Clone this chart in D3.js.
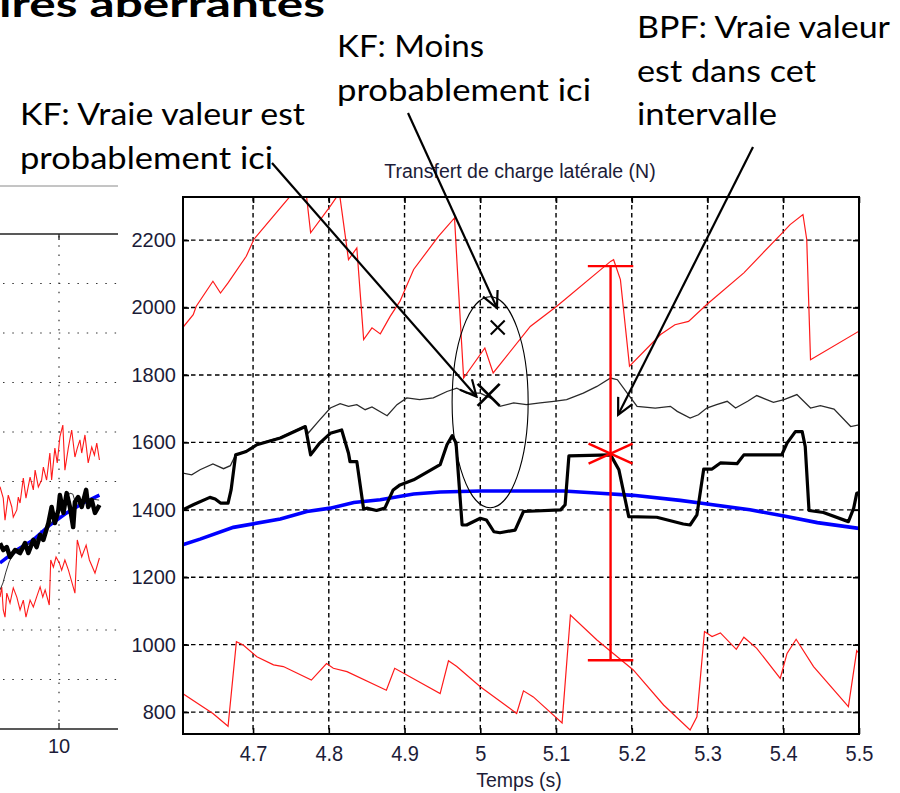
<!DOCTYPE html>
<html><head><meta charset="utf-8">
<script src="https://cdn.jsdelivr.net/npm/d3@7"></script>
<style>
html,body{margin:0;padding:0;background:#fff;}
svg{display:block;}
</style></head>
<body>
<svg id="c" width="900" height="793"></svg>
<script>
// ---------- DATA : right chart (Temps (s), Transfert de charge latérale (N)) ----------
const xTicks = [4.7, 4.8, 4.9, 5, 5.1, 5.2, 5.3, 5.4, 5.5];
const xTickLabels = ["4.7","4.8","4.9","5","5.1","5.2","5.3","5.4","5.5"];
const yTicks = [800, 1000, 1200, 1400, 1600, 1800, 2000, 2200];
const yTickLabels = ["800","1000","1200","1400","1600","1800","2000","2200"];

const redUpper = [[4.607,1940],[4.621,1979],[4.625,2004],[4.647,2078],[4.657,2043],[4.667,2073],[4.691,2152],[4.701,2202],[4.768,2381],[4.776,2222],[4.802,2301],[4.814,2340],[4.826,2142],[4.837,2177],[4.846,1905],[4.857,1940],[4.868,1922],[4.881,1974],[4.894,2019],[4.912,2113],[4.945,2212],[4.966,2266],[4.971,2063],[4.978,1791],[5.006,1880],[5.017,1806],[5.066,1944],[5.101,2004],[5.172,2137],[5.176,2142],[5.185,2083],[5.197,1826],[5.238,1920],[5.257,1949],[5.275,1959],[5.299,2009],[5.348,2103],[5.401,2227],[5.409,2246],[5.426,2276],[5.431,2202],[5.436,1845],[5.5,1930]];

const redLower = [[4.607,855],[4.630,821],[4.647,796],[4.667,758],[4.678,1009],[4.687,999],[4.705,964],[4.727,940],[4.740,935],[4.777,895],[4.797,944],[4.806,930],[4.824,920],[4.876,865],[4.887,930],[4.947,855],[4.958,952],[4.969,935],[5.000,875],[5.048,796],[5.057,863],[5.070,845],[5.108,768],[5.119,1088],[5.154,1014],[5.202,925],[5.242,821],[5.277,747],[5.286,786],[5.296,1039],[5.306,1024],[5.317,1035],[5.338,986],[5.348,1022],[5.365,989],[5.396,900],[5.405,974],[5.417,1016],[5.440,935],[5.486,816],[5.497,982],[5.5,974]];

const blueTrue = [[4.607,1296],[4.630,1313],[4.674,1348],[4.736,1373],[4.771,1395],[4.802,1405],[4.833,1422],[4.868,1430],[4.912,1447],[4.947,1453],[5.0,1456],[5.110,1456],[5.158,1449],[5.202,1443],[5.264,1428],[5.290,1420],[5.356,1400],[5.401,1382],[5.445,1362],[5.5,1345]];

const blackThick = [[4.607,1400],[4.621,1415],[4.643,1437],[4.650,1432],[4.657,1420],[4.667,1420],[4.671,1459],[4.677,1563],[4.691,1573],[4.705,1593],[4.736,1613],[4.764,1642],[4.769,1647],[4.776,1563],[4.788,1598],[4.802,1627],[4.817,1637],[4.826,1568],[4.828,1543],[4.837,1543],[4.846,1402],[4.850,1405],[4.863,1398],[4.874,1405],[4.885,1459],[4.894,1474],[4.912,1489],[4.947,1534],[4.956,1593],[4.963,1620],[4.968,1598],[4.976,1355],[4.982,1355],[5.000,1375],[5.008,1370],[5.018,1335],[5.026,1332],[5.046,1340],[5.057,1395],[5.106,1400],[5.112,1415],[5.117,1560],[5.172,1563],[5.183,1519],[5.196,1380],[5.233,1378],[5.268,1358],[5.277,1355],[5.286,1385],[5.295,1521],[5.306,1521],[5.317,1539],[5.339,1537],[5.348,1563],[5.398,1563],[5.405,1598],[5.416,1632],[5.425,1632],[5.429,1588],[5.434,1398],[5.453,1392],[5.486,1365],[5.493,1405],[5.497,1449],[5.5,1451]];

const blackThin = [[4.607,1509],[4.619,1504],[4.630,1519],[4.647,1536],[4.661,1522],[4.670,1531],[4.677,1563],[4.691,1575],[4.705,1595],[4.736,1615],[4.764,1644],[4.769,1647],[4.773,1628],[4.788,1667],[4.802,1702],[4.815,1715],[4.826,1707],[4.837,1712],[4.848,1697],[4.857,1705],[4.877,1679],[4.890,1712],[4.903,1732],[4.920,1727],[4.938,1732],[4.956,1751],[4.969,1761],[4.982,1746],[5.0,1746],[5.018,1727],[5.026,1707],[5.044,1717],[5.061,1712],[5.079,1717],[5.097,1722],[5.114,1727],[5.136,1746],[5.154,1766],[5.172,1791],[5.181,1786],[5.194,1746],[5.207,1707],[5.231,1702],[5.251,1707],[5.260,1692],[5.277,1672],[5.288,1682],[5.299,1702],[5.312,1712],[5.326,1722],[5.337,1702],[5.353,1722],[5.365,1739],[5.387,1719],[5.401,1727],[5.418,1742],[5.436,1702],[5.449,1709],[5.467,1699],[5.489,1647],[5.5,1652]];

// BPF interval (error bar) and KF markers
const bpfInterval = {t: 5.172, low: 954, high: 2123, est: 1567, cap: 0.03};
const kfLikely = [5.011, 1741];
const kfUnlikely = [5.023, 1941];
const kfEllipse = {t: 5.013, v: 1719, dt: 0.0502, dv: 313};

// ---------- DATA : left (cropped) chart ----------
const leftXTicks = [10];
const leftYGrid = [200, 400, 600, 800, 1000, 1200, 1400, 1600, 1800];
const leftRedUpper = [[8.00,979],[8.11,933],[8.17,844],[8.28,945],[8.40,897],[8.45,856],[8.57,885],[8.62,937],[8.68,913],[8.79,1014],[8.88,933],[9.02,1018],[9.13,966],[9.19,1046],[9.30,978],[9.41,1006],[9.47,1058],[9.58,1006],[9.69,1115],[9.75,1006],[9.86,1135],[9.94,1075],[10.03,1180],[10.13,1228],[10.20,1046],[10.32,1139],[10.43,1208],[10.54,1099],[10.62,1135],[10.71,1168],[10.77,1115],[10.88,1188],[10.99,1075],[11.11,1139],[11.20,1107],[11.28,1155],[11.37,1087]];
const leftBlack = [[8.00,751],[8.11,723],[8.23,735],[8.34,695],[8.51,723],[8.68,711],[8.85,751],[8.96,711],[9.13,764],[9.24,735],[9.36,784],[9.47,764],[9.64,832],[9.75,897],[9.86,832],[9.98,885],[10.03,945],[10.15,873],[10.26,953],[10.37,897],[10.48,816],[10.54,917],[10.65,937],[10.77,897],[10.92,966],[10.99,897],[11.11,925],[11.22,873],[11.37,905]];
const leftBlue = [[8.00,671],[8.57,723],[9.13,764],[9.69,824],[10.26,873],[10.82,913],[11.37,945]];
const leftThin = [[8.00,562],[8.10,590],[8.20,634],[8.31,675],[8.47,711],[8.68,731],[9.02,751],[9.36,776],[9.69,824],[10.03,885],[10.20,925],[10.37,953],[10.47,949],[10.58,905],[10.88,933],[11.36,925]];
const leftRedLower = [[8.00,533],[8.06,574],[8.11,481],[8.17,452],[8.23,549],[8.34,509],[8.45,570],[8.57,533],[8.68,481],[8.79,521],[8.88,452],[9.02,521],[9.13,493],[9.24,533],[9.36,574],[9.45,533],[9.53,562],[9.67,501],[9.72,683],[9.81,654],[9.90,695],[10.01,671],[10.09,642],[10.20,683],[10.32,642],[10.54,549],[10.62,764],[10.77,695],[10.92,743],[11.03,683],[11.22,630],[11.37,691]];

// ---------- TEXT ----------
const slideTitle = "ires aberrantes";
const chartTitle = "Transfert de charge latérale (N)";
const xLabel = "Temps (s)";
const noteLikely = ["KF: Vraie valeur est", "probablement ici"];
const noteUnlikely = ["KF: Moins", "probablement ici"];
const noteBPF = ["BPF: Vraie valeur", "est dans cet", "intervalle"];

// ---------- DRAW ----------
const svg = d3.select("#c");
const defs = svg.append("defs");
const tickFont = "'Liberation Sans', Arial, sans-serif";
const tickColor = "#1c1c38";

// slide title (cropped at the top, as in the slide)
svg.append("text").attr("x", -1).attr("y", 17)
  .attr("font-family", "Lato, 'Open Sans', sans-serif").attr("font-weight", 700)
  .attr("font-size", 37).attr("textLength", 326).attr("lengthAdjust", "spacingAndGlyphs")
  .attr("fill", "#000").text(slideTitle);

// ===== left chart =====
const xL = d3.scaleLinear().domain([8, 12]).range([0, 118]);
const yL = d3.scaleLinear().domain([0, 2000]).range([729, 234]);
defs.append("clipPath").attr("id", "clipL").append("rect")
  .attr("x", 0).attr("y", 234).attr("width", 118).attr("height", 495);

svg.append("line").attr("x1", 0).attr("x2", 118).attr("y1", 186).attr("y2", 186)
  .attr("stroke", "#8a8a8a").attr("stroke-width", 1);

const gL = svg.append("g");
gL.selectAll(".hgL").data(leftYGrid).join("line")
  .attr("x1", 3).attr("x2", 118).attr("y1", d => yL(d)).attr("y2", d => yL(d))
  .attr("stroke", "#333").attr("stroke-width", 1.2).attr("stroke-dasharray", "1.5,7.8");
gL.selectAll(".vgL").data(leftXTicks).join("line")
  .attr("x1", d => xL(d)).attr("x2", d => xL(d)).attr("y1", 236).attr("y2", 729)
  .attr("stroke", "#333").attr("stroke-width", 1.2).attr("stroke-dasharray", "1.5,7.8");
gL.append("line").attr("x1", 0).attr("x2", 118).attr("y1", 234).attr("y2", 234).attr("stroke", "#222").attr("stroke-width", 1.3);
gL.append("line").attr("x1", 0).attr("x2", 118).attr("y1", 729).attr("y2", 729).attr("stroke", "#222").attr("stroke-width", 1.3);
gL.selectAll(".tkL").data(leftXTicks).join("line")
  .attr("x1", d => xL(d)).attr("x2", d => xL(d)).attr("y1", 729).attr("y2", 723).attr("stroke", "#222").attr("stroke-width", 1.3);
gL.selectAll(".tkL2").data(leftXTicks).join("line")
  .attr("x1", d => xL(d)).attr("x2", d => xL(d)).attr("y1", 234).attr("y2", 240).attr("stroke", "#222").attr("stroke-width", 1.3);
gL.selectAll(".tlL").data(leftXTicks).join("text")
  .attr("x", d => xL(d)).attr("y", 753).attr("text-anchor", "middle")
  .attr("font-family", tickFont).attr("font-size", 20).attr("fill", tickColor).text(d => d);

const lineL = d3.line().x(d => xL(d[0])).y(d => yL(d[1]));
const pL = gL.append("g").attr("clip-path", "url(#clipL)");
pL.append("path").datum(leftRedUpper).attr("d", lineL).attr("fill", "none").attr("stroke", "#ff1a1a").attr("stroke-width", 1.1);
pL.append("path").datum(leftRedLower).attr("d", lineL).attr("fill", "none").attr("stroke", "#ff1a1a").attr("stroke-width", 1.1);
pL.append("path").datum(leftBlue).attr("d", lineL).attr("fill", "none").attr("stroke", "#0000ff").attr("stroke-width", 3.5);
pL.append("path").datum(leftThin).attr("d", lineL).attr("fill", "none").attr("stroke", "#333").attr("stroke-width", 1);
pL.append("path").datum(leftBlack).attr("d", lineL).attr("fill", "none").attr("stroke", "#000").attr("stroke-width", 4.5).attr("stroke-linejoin", "round");

// ===== right chart =====
const x = d3.scaleLinear().domain([4.6075, 5.5]).range([183, 859]);
const y = d3.scaleLinear().domain([735, 2328]).range([734, 197]);
defs.append("clipPath").attr("id", "clipR").append("rect")
  .attr("x", 183).attr("y", 197).attr("width", 676).attr("height", 537);

svg.append("rect").attr("x", 183).attr("y", 197).attr("width", 676).attr("height", 537).attr("fill", "#fff");

// grid
const gGrid = svg.append("g");
gGrid.selectAll(".vg").data(xTicks.filter(d => d < 5.5)).join("line")
  .attr("x1", d => x(d)).attr("x2", d => x(d)).attr("y1", 197).attr("y2", 734)
  .attr("stroke", "#000").attr("stroke-width", 1.4).attr("stroke-dasharray", "4.5,3.5");
gGrid.selectAll(".hg").data(yTicks).join("line")
  .attr("x1", 183).attr("x2", 859).attr("y1", d => y(d)).attr("y2", d => y(d))
  .attr("stroke", "#000").attr("stroke-width", 1.4).attr("stroke-dasharray", "4.5,3.5");

// axes
const axB = d3.axisBottom(x).tickValues(xTicks).tickFormat((d, i) => xTickLabels[i]).tickSizeInner(-6).tickSizeOuter(0).tickPadding(11);
const axL = d3.axisLeft(y).tickValues(yTicks).tickFormat((d, i) => yTickLabels[i]).tickSizeInner(-6).tickSizeOuter(0).tickPadding(7);
const axT = d3.axisTop(x).tickValues(xTicks).tickFormat("").tickSizeInner(-6).tickSizeOuter(0);
const axR = d3.axisRight(y).tickValues(yTicks).tickFormat("").tickSizeInner(-6).tickSizeOuter(0);
function styleAxis(g) {
  g.select(".domain").remove();
  g.selectAll(".tick line").attr("stroke", "#000").attr("stroke-width", 1.6);
  g.selectAll(".tick text").attr("font-family", tickFont).attr("font-size", 20)
    .attr("fill", tickColor).attr("transform", "scale(1,1.08)");
}
svg.append("g").attr("transform", "translate(0,734)").call(axB).call(styleAxis);
svg.append("g").attr("transform", "translate(183,0)").call(axL).call(styleAxis);
svg.append("g").attr("transform", "translate(0,197)").call(axT).call(styleAxis);
svg.append("g").attr("transform", "translate(859,0)").call(axR).call(styleAxis);
// the y-axis labels: keep the stretch centred on each tick
svg.selectAll("g.tick").filter(function(){ return this.parentNode && d3.select(this.parentNode).attr("transform") === "translate(183,0)"; })
  .select("text").attr("transform", null);

// data lines
const line = d3.line().x(d => x(d[0])).y(d => y(d[1]));
const plot = svg.append("g").attr("clip-path", "url(#clipR)");
plot.append("path").datum(redUpper).attr("d", line).attr("fill", "none").attr("stroke", "#ff1a1a").attr("stroke-width", 1.2);
plot.append("path").datum(redLower).attr("d", line).attr("fill", "none").attr("stroke", "#ff1a1a").attr("stroke-width", 1.2);
plot.append("path").datum(blueTrue).attr("d", line).attr("fill", "none").attr("stroke", "#0000ff").attr("stroke-width", 3.6);
plot.append("path").datum(blackThin).attr("d", line).attr("fill", "none").attr("stroke", "#2a2a2a").attr("stroke-width", 1.3);
plot.append("path").datum(blackThick).attr("d", line).attr("fill", "none").attr("stroke", "#000").attr("stroke-width", 3.2).attr("stroke-linejoin", "round");

// frame
svg.append("rect").attr("x", 183).attr("y", 197).attr("width", 676).attr("height", 537)
  .attr("fill", "none").attr("stroke", "#000").attr("stroke-width", 2);

// chart title and x label
svg.append("text").attr("x", 520).attr("y", 178).attr("text-anchor", "middle")
  .attr("font-family", tickFont).attr("font-size", 19.5).attr("fill", tickColor).text(chartTitle);
svg.append("text").attr("x", 519).attr("y", 787).attr("text-anchor", "middle")
  .attr("font-family", tickFont).attr("font-size", 19.5).attr("fill", tickColor).text(xLabel);

// ===== annotations =====
const eb = svg.append("g").attr("stroke", "#ff0000").attr("stroke-width", 2.4).attr("fill", "none");
eb.append("line").attr("x1", x(bpfInterval.t)).attr("x2", x(bpfInterval.t)).attr("y1", y(bpfInterval.high)).attr("y2", y(bpfInterval.low));
eb.append("line").attr("x1", x(bpfInterval.t - bpfInterval.cap)).attr("x2", x(bpfInterval.t + bpfInterval.cap)).attr("y1", y(bpfInterval.high)).attr("y2", y(bpfInterval.high));
eb.append("line").attr("x1", x(bpfInterval.t - bpfInterval.cap)).attr("x2", x(bpfInterval.t + bpfInterval.cap)).attr("y1", y(bpfInterval.low)).attr("y2", y(bpfInterval.low));
const sx = x(bpfInterval.t), sy = y(bpfInterval.est);
eb.append("line").attr("x1", sx - 22).attr("x2", sx + 22).attr("y1", sy - 10).attr("y2", sy + 10);
eb.append("line").attr("x1", sx - 22).attr("x2", sx + 22).attr("y1", sy + 10).attr("y2", sy - 10);

svg.append("ellipse").attr("cx", x(kfEllipse.t)).attr("cy", y(kfEllipse.v))
  .attr("rx", x(kfEllipse.t + kfEllipse.dt) - x(kfEllipse.t))
  .attr("ry", y(kfEllipse.v) - y(kfEllipse.v + kfEllipse.dv))
  .attr("fill", "none").attr("stroke", "#000").attr("stroke-width", 1.1);

function cross(p, h, w) {
  const cx = x(p[0]), cy = y(p[1]);
  const g = svg.append("g").attr("stroke", "#000").attr("stroke-width", w);
  g.append("line").attr("x1", cx - h).attr("x2", cx + h).attr("y1", cy - h).attr("y2", cy + h);
  g.append("line").attr("x1", cx - h).attr("x2", cx + h).attr("y1", cy + h).attr("y2", cy - h);
}
cross(kfUnlikely, 7, 2);
cross(kfLikely, 11, 2.8);

defs.append("marker").attr("id", "arr").attr("markerUnits", "userSpaceOnUse")
  .attr("viewBox", "-20 -10 22 20").attr("refX", 0).attr("refY", 0)
  .attr("markerWidth", 22).attr("markerHeight", 20).attr("orient", "auto")
  .append("path").attr("d", "M-16,-8 L0,0 L-16,8").attr("fill", "none").attr("stroke", "#000").attr("stroke-width", 2.2);
const arrows = [
  {from: [272, 163], to: [4.995, 1736]},
  {from: [408, 113], to: [5.022, 1999]},
  {from: [753, 147], to: [5.182, 1682]}
];
svg.selectAll(".arrow").data(arrows).join("line")
  .attr("x1", d => d.from[0]).attr("y1", d => d.from[1])
  .attr("x2", d => x(d.to[0])).attr("y2", d => y(d.to[1]))
  .attr("stroke", "#000").attr("stroke-width", 2.2).attr("marker-end", "url(#arr)");

const noteFont = "Lato, 'Open Sans', sans-serif";
function note(lines, x0, y0, widths) {
  lines.forEach((t, i) => {
    svg.append("text").attr("x", x0).attr("y", y0 + i * 43.5)
      .attr("font-family", noteFont).attr("font-size", 30).attr("fill", "#000")
      .attr("textLength", widths[i]).attr("lengthAdjust", "spacingAndGlyphs").text(t);
  });
}
note(noteLikely, 20, 125, [285, 253]);
note(noteUnlikely, 337, 57, [147, 254]);
note(noteBPF, 637, 38, [253, 179, 140]);
</script>
</body></html>
